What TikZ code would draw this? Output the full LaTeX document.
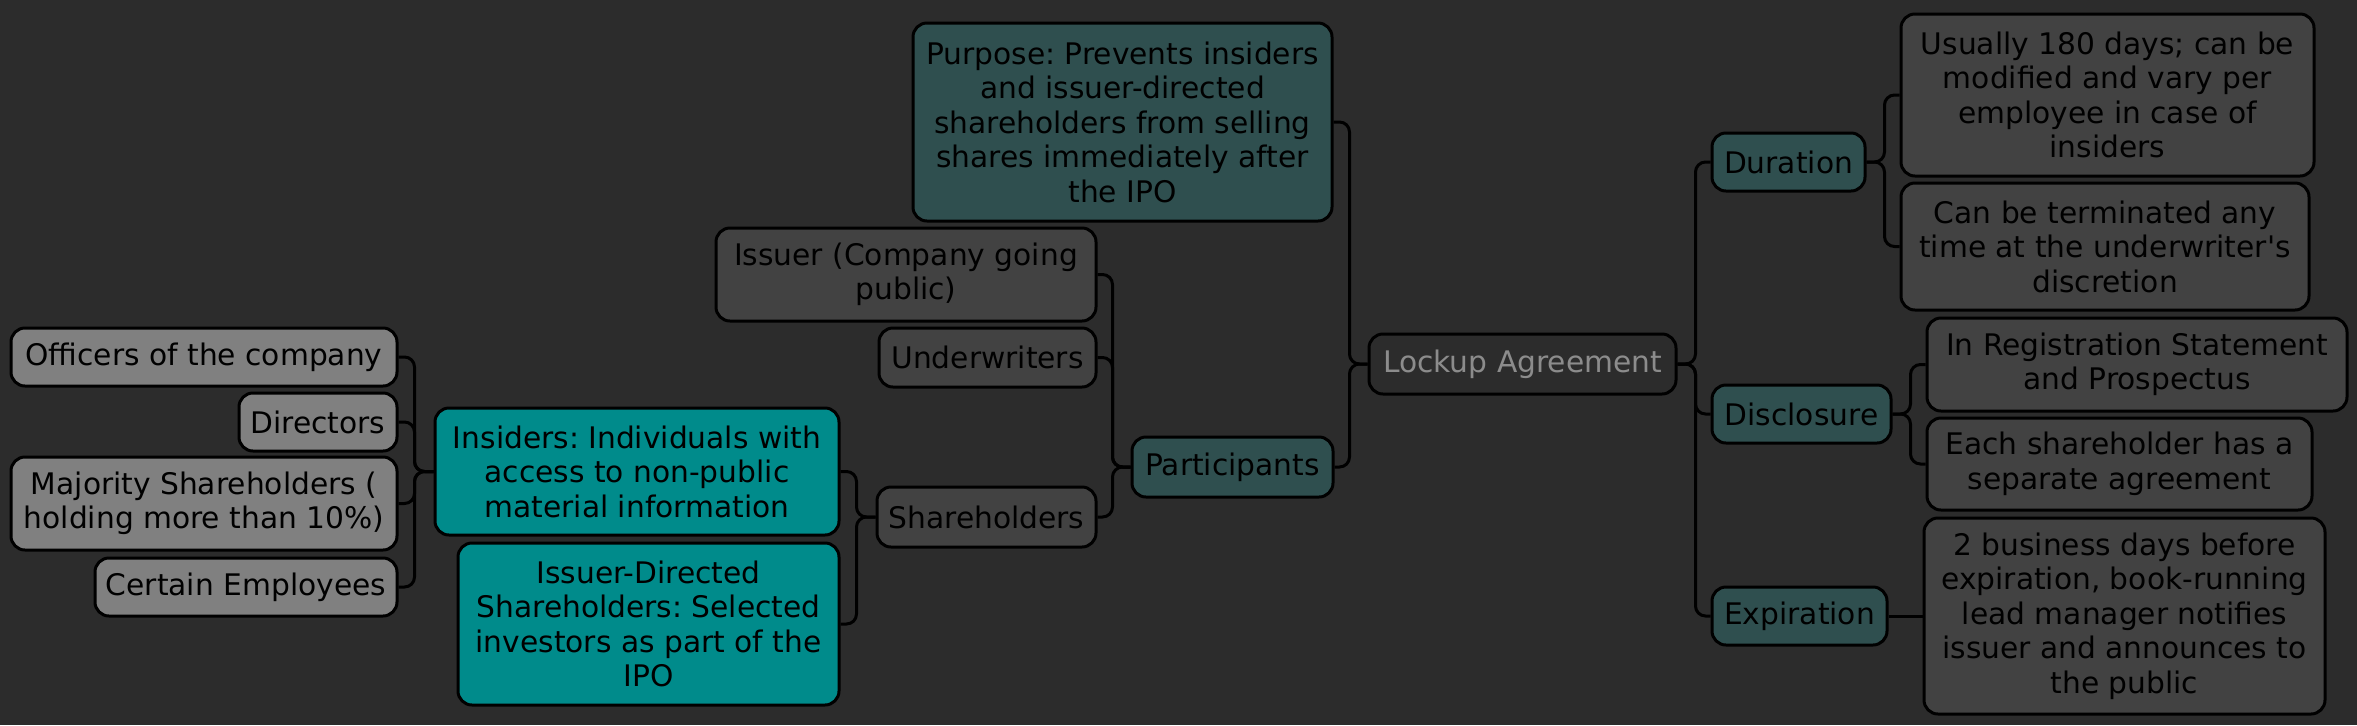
\documentclass[tikz,border=0pt]{standalone}
\usepackage{fontspec}
\setmainfont{DejaVu Sans}
\usepackage{xcolor}
\usepackage{tikz}
\usetikzlibrary{shapes}
\frenchspacing
\definecolor{bgcolor}{HTML}{2C2C2C}
\definecolor{rootgray}{HTML}{8C8C8C}
\definecolor{slate}{HTML}{2F4F4F}
\definecolor{leafgray}{HTML}{424242}
\definecolor{darkcyan}{HTML}{008B8B}
\definecolor{midgray}{HTML}{808080}
\tikzset{
	box/.style={rounded corners=7pt,draw=black,line width=1.5pt,align=center,inner sep=2pt,
		font=\fontsize{14.85}{17.25}\selectfont},
	size/.style 2 args={minimum width=#1*0.5pt,minimum height=#2*0.5pt},
	root node/.style={box,fill=bgcolor,text=rootgray},
	main node/.style={box,fill=slate},
	leaf node/.style={box,fill=leafgray},
	cyan node/.style={box,fill=darkcyan},
	grey node/.style={box,fill=midgray},
	branch/.style={draw=black,line width=1.5pt,rounded corners=5pt}
}

\begin{document}
\begin{tikzpicture}[x=0.5pt,y=-0.5pt]
	\fill[bgcolor] (0,0) rectangle (2357,725);
	\node [root node,size={307}{60}] (1) at (1522.5,364) {Lockup Agreement};
	\node [main node,size={419}{198}] (2) at (1122.5,122) {Purpose: Prevents insiders\\and issuer-directed\\shareholders from selling\\shares immediately after\\the IPO};
	\node [main node,size={201}{60}] (3) at (1232.5,467) {Participants};
	\node [leaf node,size={380}{93}] (4) at (906,274.5) {Issuer (Company going\\public)};
	\node [leaf node,size={217}{59}] (5) at (987.5,357.5) {Underwriters};
	\node [leaf node,size={219}{60}] (6) at (986.5,517) {Shareholders};
	\node [cyan node,size={404}{127}] (7) at (637,471.5) {Insiders: Individuals with\\access to non-public\\material information};
	\node [cyan node,size={381}{162}] (8) at (648.5,624) {Issuer-Directed\\Shareholders: Selected\\investors as part of the\\IPO};
	\node [grey node,size={386}{58}] (9) at (204,357) {Officers of the company};
	\node [grey node,size={158}{58}] (10) at (318,422) {Directors};
	\node [grey node,size={386}{93}] (11) at (204,503.5) {Majority Shareholders (\\holding more than 10\%)};
	\node [grey node,size={302}{58}] (12) at (246,587) {Certain Employees};
	\node [main node,size={153}{58}] (13) at (1788.5,162) {Duration};
	\node [leaf node,size={413}{162}] (14) at (2107.5,95) {Usually 180 days; can be\\modified and vary per\\employee in case of\\insiders};
	\node [leaf node,size={408}{127}] (15) at (2105,246.5) {Can be terminated any\\time at the underwriter\textquotesingle s\\discretion};
	\node [main node,size={179}{58}] (16) at (1801.5,414) {Disclosure};
	\node [leaf node,size={420}{93}] (17) at (2137,364.5) {In Registration Statement\\and Prospectus};
	\node [leaf node,size={385}{92}] (18) at (2119.5,464) {Each shareholder has a\\separate agreement};
	\node [main node,size={175}{58}] (19) at (1799.5,616) {Expiration};
	\node [leaf node,size={401}{196}] (20) at (2124.5,616) {2 business days before\\expiration, book-running\\lead manager notifies\\issuer and announces to\\the public};

	\draw [branch] (1.west) -- ++(-18,0) |- (2.east);
	\draw [branch] (1.west) -- ++(-18,0) |- (3.east);
	\draw [branch] (3.west) -- ++(-18,0) |- (4.east);
	\draw [branch] (3.west) -- ++(-18,0) |- (5.east);
	\draw [branch] (3.west) -- ++(-18,0) |- (6.east);
	\draw [branch] (6.west) -- ++(-19,0) |- (7.east);
	\draw [branch] (6.west) -- ++(-19,0) |- (8.east);
	\draw [branch] (7.west) -- ++(-19,0) |- (9.east);
	\draw [branch] (7.west) -- ++(-19,0) |- (10.east);
	\draw [branch] (7.west) -- ++(-19,0) |- (11.east);
	\draw [branch] (7.west) -- ++(-19,0) |- (12.east);
	\draw [branch] (1.east) -- ++(18,0) |- (13.west);
	\draw [branch] (1.east) -- ++(18,0) |- (16.west);
	\draw [branch] (1.east) -- ++(18,0) |- (19.west);
	\draw [branch] (13.east) -- ++(18,0) |- (14.west);
	\draw [branch] (13.east) -- ++(18,0) |- (15.west);
	\draw [branch] (16.east) -- ++(18,0) |- (17.west);
	\draw [branch] (16.east) -- ++(18,0) |- (18.west);
	\draw [branch] (19.east) -- (20.west);
\end{tikzpicture}
\end{document}
